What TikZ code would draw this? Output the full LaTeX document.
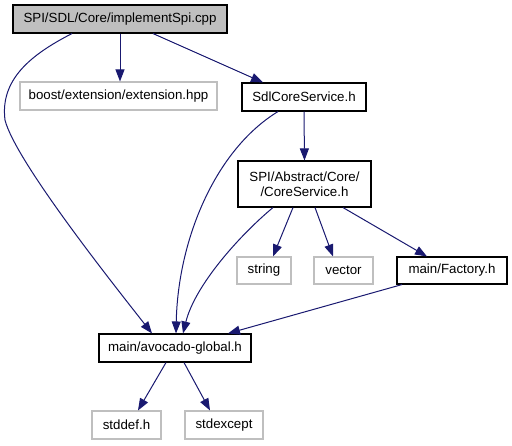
\documentclass[tikz,border=0pt]{standalone}
\usepackage{fontspec}
\setmainfont{Liberation Sans}
\usetikzlibrary{arrows.meta}
\definecolor{edgeblue}{HTML}{191970}
\definecolor{rootgray}{HTML}{BFBFBF}
\definecolor{lightgray}{HTML}{BFBFBF}
\tikzset{
  base/.style={rectangle, inner sep=0pt, font=\fontsize{13.3}{15.5}\selectfont, align=center, line width=1.1pt},
  blackbox/.style={base, draw=black},
  graybox/.style={base, draw=lightgray},
  rootbox/.style={base, draw=black, fill=rootgray},
  edge/.style={draw=edgeblue, line width=1pt, -{Triangle[length=12pt,width=9pt]}, edgeblue},
}
\begin{document}
\begin{tikzpicture}[x=1pt,y=-1pt]
\useasboundingbox (0,0) rectangle (512,445);
\node[rootbox, minimum width=214pt, minimum height=28pt] (root) at (120,19) {SPI/SDL/Core/implementSpi.cpp};
\node[graybox, minimum width=197pt, minimum height=28pt] (boost) at (118.5,96) {boost/extension/extension.hpp};
\node[blackbox, minimum width=124pt, minimum height=28pt] (sdl) at (304,97) {SdlCoreService.h};
\node[blackbox, minimum width=133pt, minimum height=46pt] (core) at (304.5,184) {SPI/Abstract/Core/\\/CoreService.h};
\node[graybox, minimum width=54pt, minimum height=27pt] (string) at (264,270.5) {string};
\node[graybox, minimum width=59pt, minimum height=27pt] (vector) at (343.5,270.5) {vector};
\node[blackbox, minimum width=110pt, minimum height=27pt] (factory) at (452,270.5) {main/Factory.h};
\node[blackbox, minimum width=152pt, minimum height=28pt] (avocado) at (175,348) {main/avocado-global.h};
\node[graybox, minimum width=69pt, minimum height=28pt] (stddef) at (126.5,425) {stddef.h};
\node[graybox, minimum width=78pt, minimum height=28pt] (stdexcept) at (224,425) {stdexcept};

\draw[edge] (root.south) -- (root.south |- boost.north);
\draw[edge] ([xshift=33pt]root.south) -- ([xshift=-41pt]sdl.north);
\draw[edge] ([xshift=-48pt]root.south) .. controls (30,55) and (0,80) .. (5,120) .. controls (15,160) and (110,280) .. ([xshift=-23pt]avocado.north);
\draw[edge] (sdl.south) -- (core.north);
\draw[edge] ([xshift=-26pt]sdl.south) .. controls (215,150) and (178,240) .. ([xshift=1pt]avocado.north);
\draw[edge] ([xshift=-31.5pt]core.south) .. controls (240,235) and (195,285) .. ([xshift=8pt]avocado.north);
\draw[edge] ([xshift=-11.5pt]core.south) -- ([xshift=9pt]string.north);
\draw[edge] ([xshift=10.5pt]core.south) -- ([xshift=-10.5pt]vector.north);
\draw[edge] ([xshift=38.5pt]core.south) -- ([xshift=-25pt]factory.north);
\draw[edge] ([xshift=-50pt]factory.south) -- ([xshift=53pt]avocado.north);
\draw[edge] ([xshift=-9pt]avocado.south) -- ([xshift=11.5pt]stddef.north);
\draw[edge] ([xshift=9pt]avocado.south) -- ([xshift=-14pt]stdexcept.north);
\end{tikzpicture}
\end{document}
